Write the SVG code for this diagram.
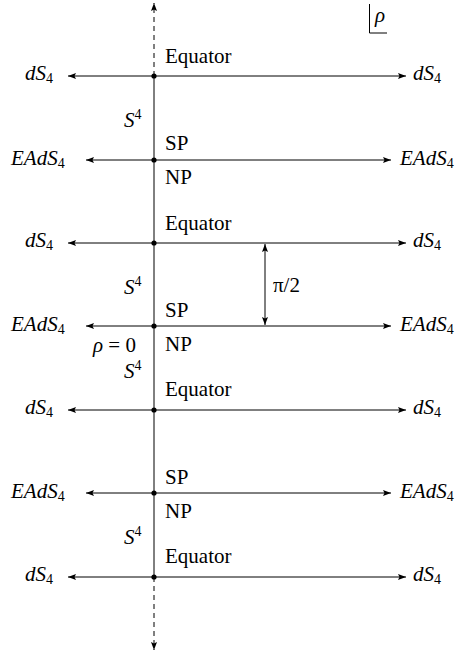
<svg xmlns="http://www.w3.org/2000/svg" width="464" height="656" viewBox="0 0 464 656">
<style>
.ln{stroke:#000;stroke-width:1;fill:none}
.dash{stroke:#000;stroke-width:1;fill:none;stroke-dasharray:5,4}
</style>
<defs>
<marker id="ah" viewBox="0 0 8 6" refX="8" refY="3" markerWidth="8" markerHeight="6" orient="auto" markerUnits="userSpaceOnUse">
<path d="M0,0 L8,3 L0,6 L1.5,3 Z" fill="#000"/>
</marker>
<marker id="ahs" viewBox="0 0 8 6" refX="8" refY="3" markerWidth="8" markerHeight="6" orient="auto-start-reverse" markerUnits="userSpaceOnUse">
<path d="M0,0 L8,3 L0,6 L1.5,3 Z" fill="#000"/>
</marker>
</defs>
<g id="connectors">
<line class="dash" x1="154" y1="76" x2="154" y2="3" marker-end="url(#ah)"/>
<line class="ln" x1="154" y1="76" x2="154" y2="577"/>
<line class="dash" x1="154" y1="577" x2="154" y2="650" marker-end="url(#ah)"/>
<line class="ln" x1="154" y1="76" x2="68" y2="76" marker-end="url(#ah)"/>
<line class="ln" x1="154" y1="76" x2="406" y2="76" marker-end="url(#ah)"/>
<line class="ln" x1="154" y1="160" x2="86" y2="160" marker-end="url(#ah)"/>
<line class="ln" x1="154" y1="160" x2="391" y2="160" marker-end="url(#ah)"/>
<line class="ln" x1="154" y1="243" x2="68" y2="243" marker-end="url(#ah)"/>
<line class="ln" x1="154" y1="243" x2="406" y2="243" marker-end="url(#ah)"/>
<line class="ln" x1="154" y1="326" x2="86" y2="326" marker-end="url(#ah)"/>
<line class="ln" x1="154" y1="326" x2="391" y2="326" marker-end="url(#ah)"/>
<line class="ln" x1="154" y1="410" x2="68" y2="410" marker-end="url(#ah)"/>
<line class="ln" x1="154" y1="410" x2="406" y2="410" marker-end="url(#ah)"/>
<line class="ln" x1="154" y1="493" x2="86" y2="493" marker-end="url(#ah)"/>
<line class="ln" x1="154" y1="493" x2="391" y2="493" marker-end="url(#ah)"/>
<line class="ln" x1="154" y1="577" x2="68" y2="577" marker-end="url(#ah)"/>
<line class="ln" x1="154" y1="577" x2="406" y2="577" marker-end="url(#ah)"/>
<line class="ln" x1="265" y1="244" x2="265" y2="325" marker-start="url(#ahs)" marker-end="url(#ahs)"/>
</g>
<g id="dots" fill="#000">
<circle cx="154" cy="76" r="2.6"/>
<circle cx="154" cy="160" r="2.6"/>
<circle cx="154" cy="243" r="2.6"/>
<circle cx="154" cy="326" r="2.6"/>
<circle cx="154" cy="410" r="2.6"/>
<circle cx="154" cy="493" r="2.6"/>
<circle cx="154" cy="577" r="2.6"/>
</g>
<g id="rho-label">
<path class="ln" d="M369.5,4 V33 H387"/>
<text font-family="Liberation Serif, Times New Roman, serif" font-size="21" font-style="italic" x="375" y="22">ρ</text>
</g>
<g id="left-labels" font-family="Liberation Serif, Times New Roman, serif" font-size="21" font-style="italic">
<text x="25" y="80">dS<tspan font-size="14" font-style="normal" dy="3">4</tspan></text>
<text x="11" y="165">EAdS<tspan font-size="14" font-style="normal" dy="3">4</tspan></text>
<text x="25" y="247">dS<tspan font-size="14" font-style="normal" dy="3">4</tspan></text>
<text x="11" y="331">EAdS<tspan font-size="14" font-style="normal" dy="3">4</tspan></text>
<text x="25" y="414">dS<tspan font-size="14" font-style="normal" dy="3">4</tspan></text>
<text x="11" y="498">EAdS<tspan font-size="14" font-style="normal" dy="3">4</tspan></text>
<text x="25" y="581">dS<tspan font-size="14" font-style="normal" dy="3">4</tspan></text>
</g>
<g id="right-labels" font-family="Liberation Serif, Times New Roman, serif" font-size="21" font-style="italic">
<text x="413" y="80">dS<tspan font-size="14" font-style="normal" dy="3">4</tspan></text>
<text x="400" y="165">EAdS<tspan font-size="14" font-style="normal" dy="3">4</tspan></text>
<text x="413" y="247">dS<tspan font-size="14" font-style="normal" dy="3">4</tspan></text>
<text x="400" y="331">EAdS<tspan font-size="14" font-style="normal" dy="3">4</tspan></text>
<text x="413" y="414">dS<tspan font-size="14" font-style="normal" dy="3">4</tspan></text>
<text x="400" y="498">EAdS<tspan font-size="14" font-style="normal" dy="3">4</tspan></text>
<text x="413" y="581">dS<tspan font-size="14" font-style="normal" dy="3">4</tspan></text>
</g>
<g id="axis-labels" font-family="Liberation Serif, Times New Roman, serif" font-size="21">
<text x="165" y="63">Equator</text>
<text font-style="italic" x="124" y="127">S<tspan font-size="14" font-style="normal" dy="-8">4</tspan></text>
<text x="165" y="150">SP</text>
<text x="165" y="184">NP</text>
<text x="165" y="230">Equator</text>
<text font-style="italic" x="124" y="294">S<tspan font-size="14" font-style="normal" dy="-8">4</tspan></text>
<text x="165" y="317">SP</text>
<text font-style="italic" x="93" y="352">ρ <tspan font-style="normal">= 0</tspan></text>
<text x="165" y="351">NP</text>
<text font-style="italic" x="124" y="378">S<tspan font-size="14" font-style="normal" dy="-8">4</tspan></text>
<text x="165" y="396">Equator</text>
<text x="165" y="484">SP</text>
<text x="165" y="518">NP</text>
<text font-style="italic" x="124" y="544">S<tspan font-size="14" font-style="normal" dy="-8">4</tspan></text>
<text x="165" y="563">Equator</text>
<text x="273" y="292">π/2</text>
</g>
</svg>
